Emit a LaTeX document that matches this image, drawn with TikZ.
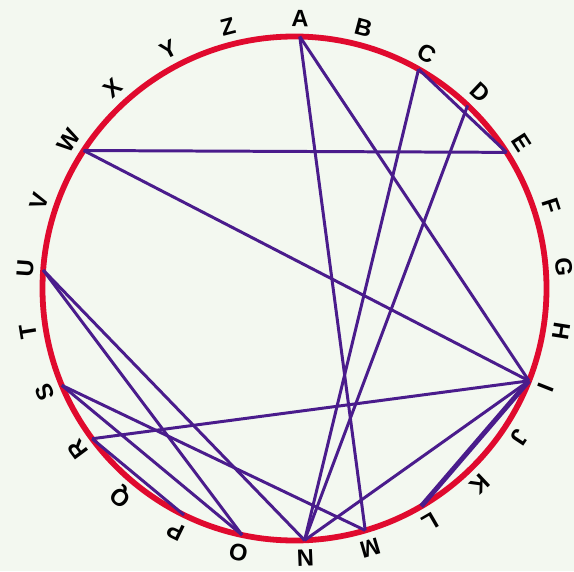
\documentclass[tikz,border=0pt]{standalone}
\usepackage{fontspec}
\setmainfont{Liberation Sans}

\definecolor{ringred}{RGB}{224,10,46}
\definecolor{chordpurple}{RGB}{74,28,140}
\definecolor{paper}{RGB}{243,248,240}

\begin{document}
\begin{tikzpicture}[x=0.02cm, y=0.02cm,
        letter/.style={font=\fontsize{13.5}{13.5}\selectfont\bfseries, inner sep=0pt},
        chord/.style={chordpurple, line width=1.7pt}]
        % Background
        \fill[paper] (-294.5,-282.5) rectangle (279.5,288.5);
        \useasboundingbox (-294.5,-282.5) rectangle (279.5,288.5);

        % Ring
        \draw[ringred, line width=3.3pt] (0,0) circle (252);

        % Points and letters
        \foreach \l/\a in {A/88.8, B/75.2, C/60.5, D/46.6, E/32.7, F/17.8, G/4.5,
                H/-9, I/-21.5, J/-33.5, K/-46.6, L/-59.8, M/-73.7, N/-87.7,
                O/-102, P/-116, Q/-129.8, R/-143.4, S/-157.4, T/-170.8,
                U/175.8, V/161.2, W/146.8, X/132.2, Y/117.7, Z/104.3}{
            \coordinate (\l) at (\a:252);
            \node[letter, rotate=\a-90] (l\l) at (\a:270) {\l};
        }

        % Chords
        \foreach \s/\t in {A/M, A/I, C/E, C/N, D/N, W/E, W/I, U/N, U/O,
                S/O, S/M, R/P, R/I, I/N}
            \draw[chord] (\s) -- (\t);
        \draw[chord, line width=2.8pt] (I) -- (L);
    \end{tikzpicture}
\end{document}
